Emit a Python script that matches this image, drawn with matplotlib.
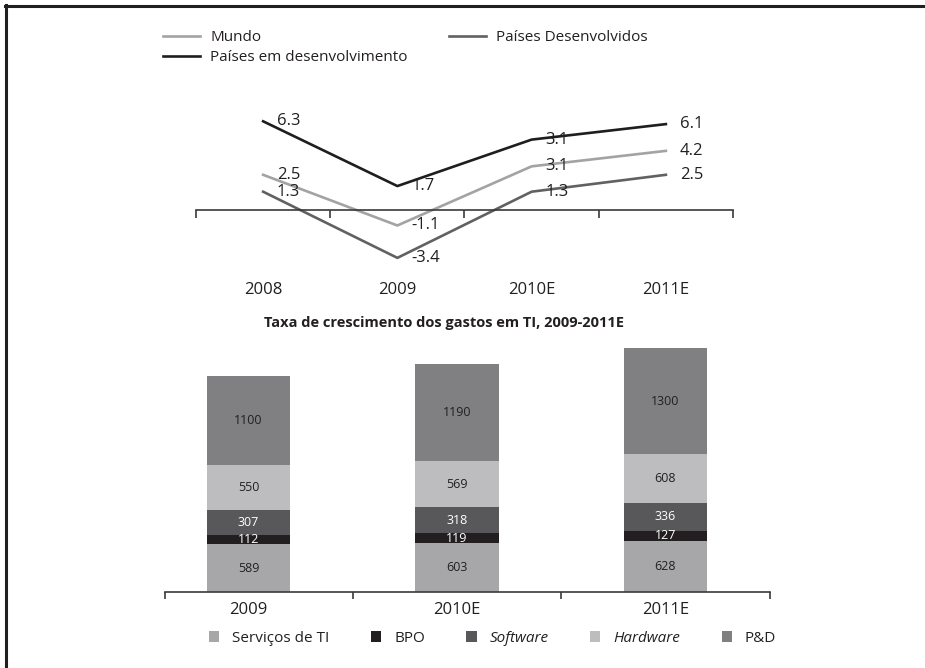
import matplotlib
matplotlib.use('Agg')
import matplotlib.pyplot as plt
from matplotlib.lines import Line2D

plt.rcParams['font.family'] = ['Open Sans', 'DejaVu Sans']

# Line chart data (growth %); the printed labels differ from the plotted
# position for one point in the original, so labels are kept separately
years_line = ['2008', '2009', '2010E', '2011E']
mundo = [2.5, -1.1, 3.1, 4.2]
desenvolvidos = [1.3, -3.4, 1.3, 2.5]
em_desenv = [6.3, 1.7, 5.0, 6.1]
mundo_lbl = ['2.5', '-1.1', '3.1', '4.2']
desenvolvidos_lbl = ['1.3', '-3.4', '1.3', '2.5']
em_desenv_lbl = ['6.3', '1.7', '3.1', '6.1']

# Stacked bar data
years_bar = ['2009', '2010E', '2011E']
servicos = [589, 603, 628]
bpo = [112, 119, 127]
software = [307, 318, 336]
hardware = [550, 569, 608]
ped = [1100, 1190, 1300]

W, H = 925, 668
fig = plt.figure(figsize=(W / 100, H / 100), dpi=100)
axis_col = '#3a3a3a'
txt_col = '#231f20'

# --- top: line chart ---
ax1 = fig.add_axes([196 / W, 1 - 280.4 / H, 537 / W, 176 / H])
x = list(range(len(years_line)))
series = [(mundo, mundo_lbl, 'Mundo', '#a3a3a3'),
          (em_desenv, em_desenv_lbl, 'Países em desenvolvimento', '#1e1e1e'),
          (desenvolvidos, desenvolvidos_lbl, 'Países Desenvolvidos', '#616161')]
for vals, lbls, name, c in series:
    ax1.plot(x, vals, color=c, lw=1.9, label=name)
    for i, (v, t) in enumerate(zip(vals, lbls)):
        ax1.annotate(t, (i, v), xytext=(10, 0), textcoords='offset points',
                     va='center', ha='left', fontsize=12, color=txt_col)

ax1.set_xlim(-0.5, 3.5)
ax1.set_ylim(-5, 7.5)
for s in ['left', 'right', 'top']:
    ax1.spines[s].set_visible(False)
ax1.spines['bottom'].set_position(('data', 0))
ax1.spines['bottom'].set_color(axis_col)
ax1.spines['bottom'].set_linewidth(1.2)
ax1.set_yticks([])
ax1.set_xticks([-0.5, 0.5, 1.5, 2.5, 3.5])
ax1.set_xticklabels([])
ax1.set_xticks(x, minor=True)
ax1.set_xticklabels(years_line, minor=True)
ax1.tick_params(which='major', direction='out', length=6, width=1.2, color=axis_col)
ax1.tick_params(which='minor', length=0, pad=52, labelsize=12, labelcolor=txt_col)

ax1.legend(ncol=2, loc='upper left', bbox_to_anchor=(163 / W, 1 - 30 / H),
           bbox_transform=fig.transFigure, frameon=False, fontsize=11,
           handlelength=2.4, handletextpad=0.7, columnspacing=2.7,
           borderpad=0, borderaxespad=0, labelspacing=0.35, labelcolor=txt_col)

# --- bottom: stacked bars ---
fig.text(444 / W, 1 - 323 / H, 'Taxa de crescimento dos gastos em TI, 2009-2011E',
         ha='center', va='center', fontsize=10.5, fontweight='bold', color=txt_col)

ax2 = fig.add_axes([165 / W, 1 - 592 / H, 604.7 / W, 252 / H])
xb = list(range(len(years_bar)))
stack = [(servicos, 'Serviços de TI', '#a7a7a9', txt_col),
         (bpo, 'BPO', '#231f20', 'white'),
         (software, 'Software', '#58585a', 'white'),
         (hardware, 'Hardware', '#bdbdbf', txt_col),
         (ped, 'P&D', '#808082', txt_col)]
bottom = [0] * len(xb)
for vals, name, c, tc in stack:
    bars = ax2.bar(xb, vals, 0.4, bottom=bottom, color=c, label=name)
    ax2.bar_label(bars, labels=[str(v) for v in vals], label_type='center',
                  fontsize=9, color=tc)
    bottom = [b + v for b, v in zip(bottom, vals)]

ax2.set_xlim(-0.4, 2.5)
ax2.set_ylim(0, 3100)
for s in ['left', 'right', 'top']:
    ax2.spines[s].set_visible(False)
ax2.spines['bottom'].set_color(axis_col)
ax2.spines['bottom'].set_linewidth(1.2)
ax2.set_yticks([])
ax2.set_xticks([-0.4, 0.5, 1.5, 2.5])
ax2.set_xticklabels([])
ax2.set_xticks(xb, minor=True)
ax2.set_xticklabels(years_bar, minor=True)
ax2.tick_params(which='major', direction='out', length=5, width=1.2, color=axis_col)
ax2.tick_params(which='minor', length=0, pad=7, labelsize=12, labelcolor=txt_col)

leg = fig.legend(*ax2.get_legend_handles_labels(), ncol=5, loc='upper left',
                 bbox_to_anchor=(209 / W, 1 - 631 / H), frameon=False, fontsize=11,
                 handlelength=0.68, handleheight=0.68, handletextpad=0.85,
                 columnspacing=2.7, borderpad=0, borderaxespad=0, labelcolor=txt_col)
leg.get_texts()[2].set_fontstyle('italic')
leg.get_texts()[3].set_fontstyle('italic')

# page frame (top and left rules)
fig.add_artist(Line2D([5 / W, 1], [1 - 5.5 / H] * 2, transform=fig.transFigure,
                      color=txt_col, lw=2.2))
fig.add_artist(Line2D([6 / W] * 2, [0, 1 - 4.5 / H], transform=fig.transFigure,
                      color=txt_col, lw=2.2))

fig.savefig('out.png', dpi=100)
